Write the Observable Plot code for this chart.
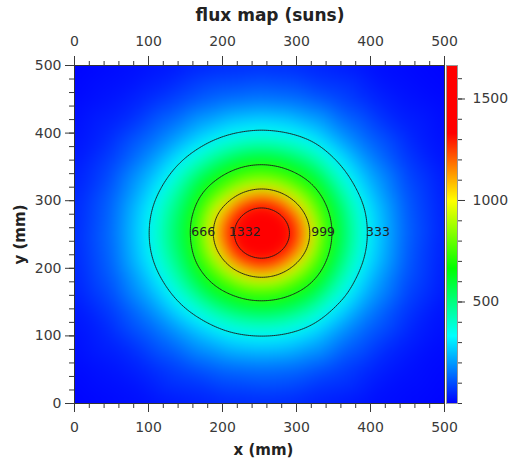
<!DOCTYPE html>
<html><head><meta charset="utf-8">
<script src="https://cdn.jsdelivr.net/npm/d3@7"></script>
<script src="https://cdn.jsdelivr.net/npm/@observablehq/plot@0.6"></script>
<style>
body{margin:0;background:#fff;}
#wrap{position:relative;width:510px;height:458px;font-family:"DejaVu Sans",sans-serif;}
#main,#bar{position:absolute;top:0;}
#main{left:0;}
#bar{left:440px;}
#title{position:absolute;left:0;top:7px;width:540px;text-align:center;font-weight:bold;font-size:17px;line-height:17px;color:#222;z-index:5;}
</style></head><body>
<div id="wrap"><div id="main"></div><div id="bar"></div><div id="title">flux map (suns)</div></div>
<script>
// Sample grid (flux in suns)
const fineX = [100,125,150,175,200,225,250,275,300,325,350,375,400];
const fineY = [400,375,350,325,300,275,250,225,200,175,150,125,100];
const fineFlux = [
  [122,164,213,262,303,330,346,335,311,273,211,159,115],
  [162,222,290,361,434,483,504,490,448,380,288,216,151],
  [209,287,382,488,586,665,700,680,605,514,378,279,197],
  [253,349,482,618,748,852,903,870,777,648,478,335,237],
  [290,417,540,737,922,1144,1258,1187,973,780,565,401,273],
  [314,458,585,825,1110,1409,1548,1459,1195,875,622,443,296],
  [321,471,595,854,1184,1499,1656,1559,1274,916,639,455,303],
  [311,454,575,815,1084,1379,1508,1425,1165,863,615,438,293],
  [285,407,530,719,890,1090,1198,1130,938,760,553,393,268],
  [245,337,467,598,721,820,862,836,748,628,464,326,230],
  [202,277,364,469,561,625,652,636,579,491,361,268,190],
  [154,213,277,339,411,458,477,466,425,358,275,207,145],
  [115,154,202,247,288,314,325,318,296,258,201,149,109]
];
const edgeX = [0,50,100,150,200,250,300,350,400,450,500];
const edgeRowY = [500,450,50,0];
const edgeRowFlux = [
  [4,13,23,38,52,58,53,38,21,11,4],
  [12,27,55,99,139,156,142,98,52,24,10],
  [12,26,52,92,131,146,134,92,49,22,9],
  [4,12,21,35,48,53,49,34,20,11,4]
];
const edgeColX = [0,50,450,500];
const edgeColY = [100,150,200,250,300,350,400];
const edgeColFlux = [
  [21,34,47,52,48,35,22],
  [52,91,129,143,131,94,54],
  [46,80,112,126,114,83,48],
  [17,27,37,42,38,28,17]
];
const contourLevels = [333,666,999,1332];
const labelX = [410,174,336,230];
const labelY = [253,253,253,253];
const axisTicks = [0,100,200,300,400,500];
const barTicks = [500,1000,1500];
const colorStops = [0,333,666,999,1332,1665];
const colorRange = ["#0000ff","#00ffff","#00ff00","#ffff00","#ff0000","#ff0000"];

const points = [];
fineY.forEach((y,i)=>fineX.forEach((x,j)=>points.push({x,y,v:fineFlux[i][j]})));
edgeRowY.forEach((y,i)=>edgeX.forEach((x,j)=>points.push({x,y,v:edgeRowFlux[i][j]})));
edgeColX.forEach((x,i)=>edgeColY.forEach((y,j)=>points.push({x,y,v:edgeColFlux[i][j]})));

const color = {type:"linear", domain:colorStops, range:colorRange, interpolate:"rgb"};
const style = {fontFamily:"DejaVu Sans", fontSize:"14px", color:"#3a3a3a", background:"transparent", overflow:"visible"};

const main = Plot.plot({
  width:510, height:458, marginLeft:74, marginRight:66, marginTop:65, marginBottom:55,
  style,
  x:{domain:[0,500], label:null},
  y:{domain:[0,500], label:null},
  color,
  marks:[
    Plot.raster(points,{x:"x",y:"y",fill:"v",interpolate:"barycentric",blur:7,x1:0,y1:0,x2:500,y2:500}),
    Plot.contour(points,{x:"x",y:"y",value:"v",interpolate:"barycentric",blur:4,x1:0,y1:0,x2:500,y2:500,
      thresholds:contourLevels,stroke:"#1a1a1a",strokeWidth:0.9,fill:"none"}),
    Plot.text(contourLevels,{x:(d,i)=>labelX[i], y:(d,i)=>labelY[i], text:d=>String(d), fontSize:12.5, fill:"#222"}),
    Plot.frame({stroke:"#333"}),
    Plot.axisX({anchor:"bottom", interval:20, tickSize:5, tickFormat:()=>"", label:null}),
    Plot.axisX({anchor:"bottom", ticks:axisTicks, tickSize:9, tickPadding:10, label:null}),
    Plot.axisX({anchor:"top", interval:20, tickSize:5, tickFormat:()=>"", label:null}),
    Plot.axisX({anchor:"top", ticks:axisTicks, tickSize:10, tickPadding:10, label:null}),
    Plot.axisY({anchor:"left", interval:20, tickSize:5, tickFormat:()=>"", label:null}),
    Plot.axisY({anchor:"left", ticks:axisTicks, tickSize:9, tickPadding:4, label:null}),
    Plot.text(["x (mm)"],{frameAnchor:"bottom", dy:51, dx:4, fontWeight:"bold", fontSize:15, fill:"#222"}),
    Plot.text(["y (mm)"],{frameAnchor:"left", dx:-54, rotate:-90, textAnchor:"middle", fontWeight:"bold", fontSize:15, fill:"#222"})
  ]
});
document.getElementById("main").append(main);

const bar = Plot.plot({
  width:70, height:458, marginLeft:6, marginRight:53, marginTop:65, marginBottom:55,
  style,
  x:{domain:[0,1], axis:null},
  y:{domain:[0,1665], label:null},
  color,
  marks:[
    Plot.raster({fill:(x,y)=>y, x1:0, x2:1, y1:0, y2:1665}),
    Plot.frame({stroke:"#999"}),
    Plot.axisY({anchor:"right", interval:100, tickSize:4, tickFormat:()=>"", label:null}),
    Plot.axisY({anchor:"right", ticks:barTicks, tickSize:7, tickPadding:8, tickFormat:d=>String(d), label:null})
  ]
});
document.getElementById("bar").append(bar);
</script></body></html>
